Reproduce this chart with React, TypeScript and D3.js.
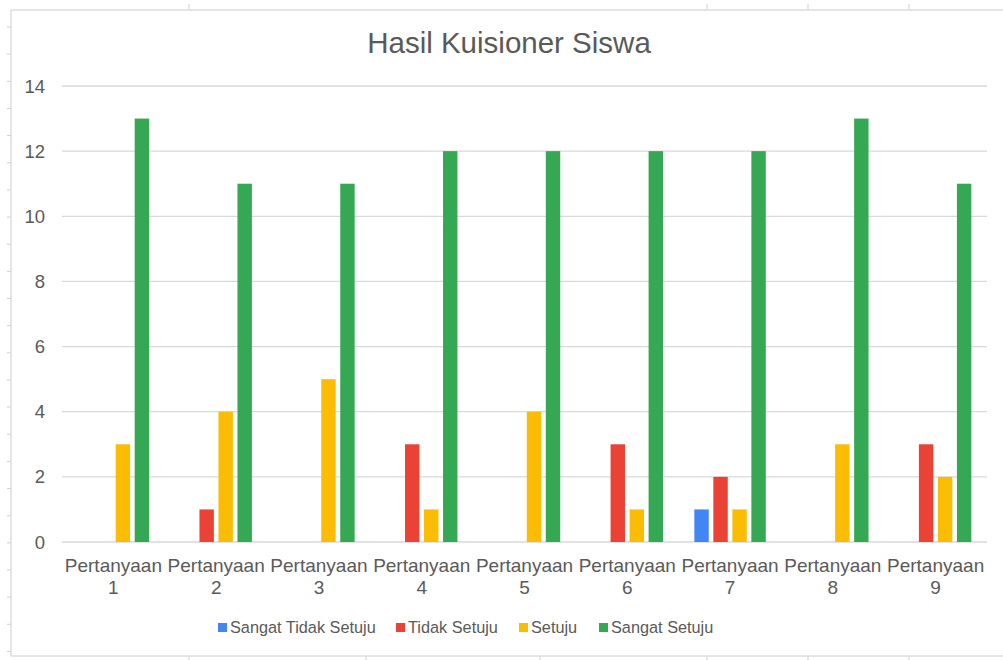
import React from "react";
import * as d3 from "d3";

const categories = [
  "Pertanyaan 1", "Pertanyaan 2", "Pertanyaan 3", "Pertanyaan 4", "Pertanyaan 5",
  "Pertanyaan 6", "Pertanyaan 7", "Pertanyaan 8", "Pertanyaan 9",
];
const seriesNames = ["Sangat Tidak Setuju", "Tidak Setuju", "Setuju", "Sangat Setuju"];
const sangatTidakSetuju = [0, 0, 0, 0, 0, 0, 1, 0, 0];
const tidakSetuju = [0, 1, 0, 3, 0, 3, 2, 0, 3];
const setuju = [3, 4, 5, 1, 4, 1, 1, 3, 2];
const sangatSetuju = [13, 11, 11, 12, 12, 12, 12, 13, 11];
const yTicks = [0, 2, 4, 6, 8, 10, 12, 14];
const colors = ["#4285F4", "#EA4335", "#FBBC04", "#34A853"];
const title = "Hasil Kuisioner Siswa";

// spreadsheet decoration
const topMarks = [189, 707, 808, 909];
const bottomMarks = [189, 366, 540, 707, 808, 909];

const W = 1003;
const H = 660;
const FONT = "Arial, 'Liberation Sans', sans-serif";

export default function App() {
  const values = [sangatTidakSetuju, tidakSetuju, setuju, sangatSetuju];
  const x0 = d3.scaleBand<string>().domain(categories).range([62, 987]).paddingInner(0.305).paddingOuter(0.1525);
  const x1 = d3.scaleBand<string>().domain(seriesNames).range([0, x0.bandwidth()]).paddingInner(0.242);
  const y = d3.scaleLinear().domain([0, 14]).range([542, 86]);
  const step = x0.step();
  const catCenter = (c: string) => 62 + (categories.indexOf(c) + 0.5) * step;

  const legendX = [218, 396, 519, 599];
  const leftTicks = d3.range(27, 655, 27.15);

  return (
    <svg width={W} height={H} style={{ position: "absolute", left: 0, top: 0, background: "#fff" }} fontFamily={FONT}>
      <rect x={0} y={0} width={W} height={H} fill="#fff" />
      {leftTicks.map((t, i) => (
        <line key={"lt" + i} x1={7} x2={11} y1={t} y2={t} stroke="#d0d0d0" strokeWidth={1} />
      ))}
      {topMarks.map((t, i) => (
        <line key={"tm" + i} x1={t} x2={t} y1={4} y2={10} stroke="#d0d0d0" strokeWidth={1} />
      ))}
      {bottomMarks.map((t, i) => (
        <line key={"bm" + i} x1={t} x2={t} y1={656} y2={660} stroke="#d0d0d0" strokeWidth={1} />
      ))}
      <line x1={11} x2={W} y1={10} y2={10} stroke="#dcdcdc" strokeWidth={1.5} />
      <line x1={11} x2={11} y1={10} y2={656} stroke="#dcdcdc" strokeWidth={1.5} />
      <line x1={11} x2={W} y1={656} y2={656} stroke="#dcdcdc" strokeWidth={1.5} />

      <text x={509} y={53} textAnchor="middle" fontSize={29.5} fill="#595959">{title}</text>

      {yTicks.map((t) => (
        <g key={"y" + t}>
          <line x1={62} x2={987} y1={y(t)} y2={y(t)} stroke="#d9d9d9" strokeWidth={1.3} />
          <text x={45} y={y(t) + 6.5} textAnchor="end" fontSize={18.5} fill="#5a5a5a">{t}</text>
        </g>
      ))}

      {categories.map((c, ci) => (
        <g key={c} transform={`translate(${x0(c)},0)`}>
          {seriesNames.map((s, si) => {
            const v = values[si][ci];
            if (!v) return null;
            return (
              <rect key={s} x={x1(s)} y={y(v)} width={x1.bandwidth()} height={y(0) - y(v)} fill={colors[si]} />
            );
          })}
        </g>
      ))}

      {categories.map((c) => {
        const [a, b] = c.split(" ");
        const cx = catCenter(c);
        return (
          <text key={"xl" + c} textAnchor="middle" fontSize={19} fill="#5a5a5a">
            <tspan x={cx} y={572}>{a}</tspan>
            <tspan x={cx} y={594}>{b}</tspan>
          </text>
        );
      })}

      {seriesNames.map((s, i) => (
        <g key={"lg" + s}>
          <rect x={legendX[i]} y={623} width={9} height={9} fill={colors[i]} />
          <text x={legendX[i] + 12} y={633} fontSize={16.3} fill="#5a5a5a">{s}</text>
        </g>
      ))}
    </svg>
  );
}
